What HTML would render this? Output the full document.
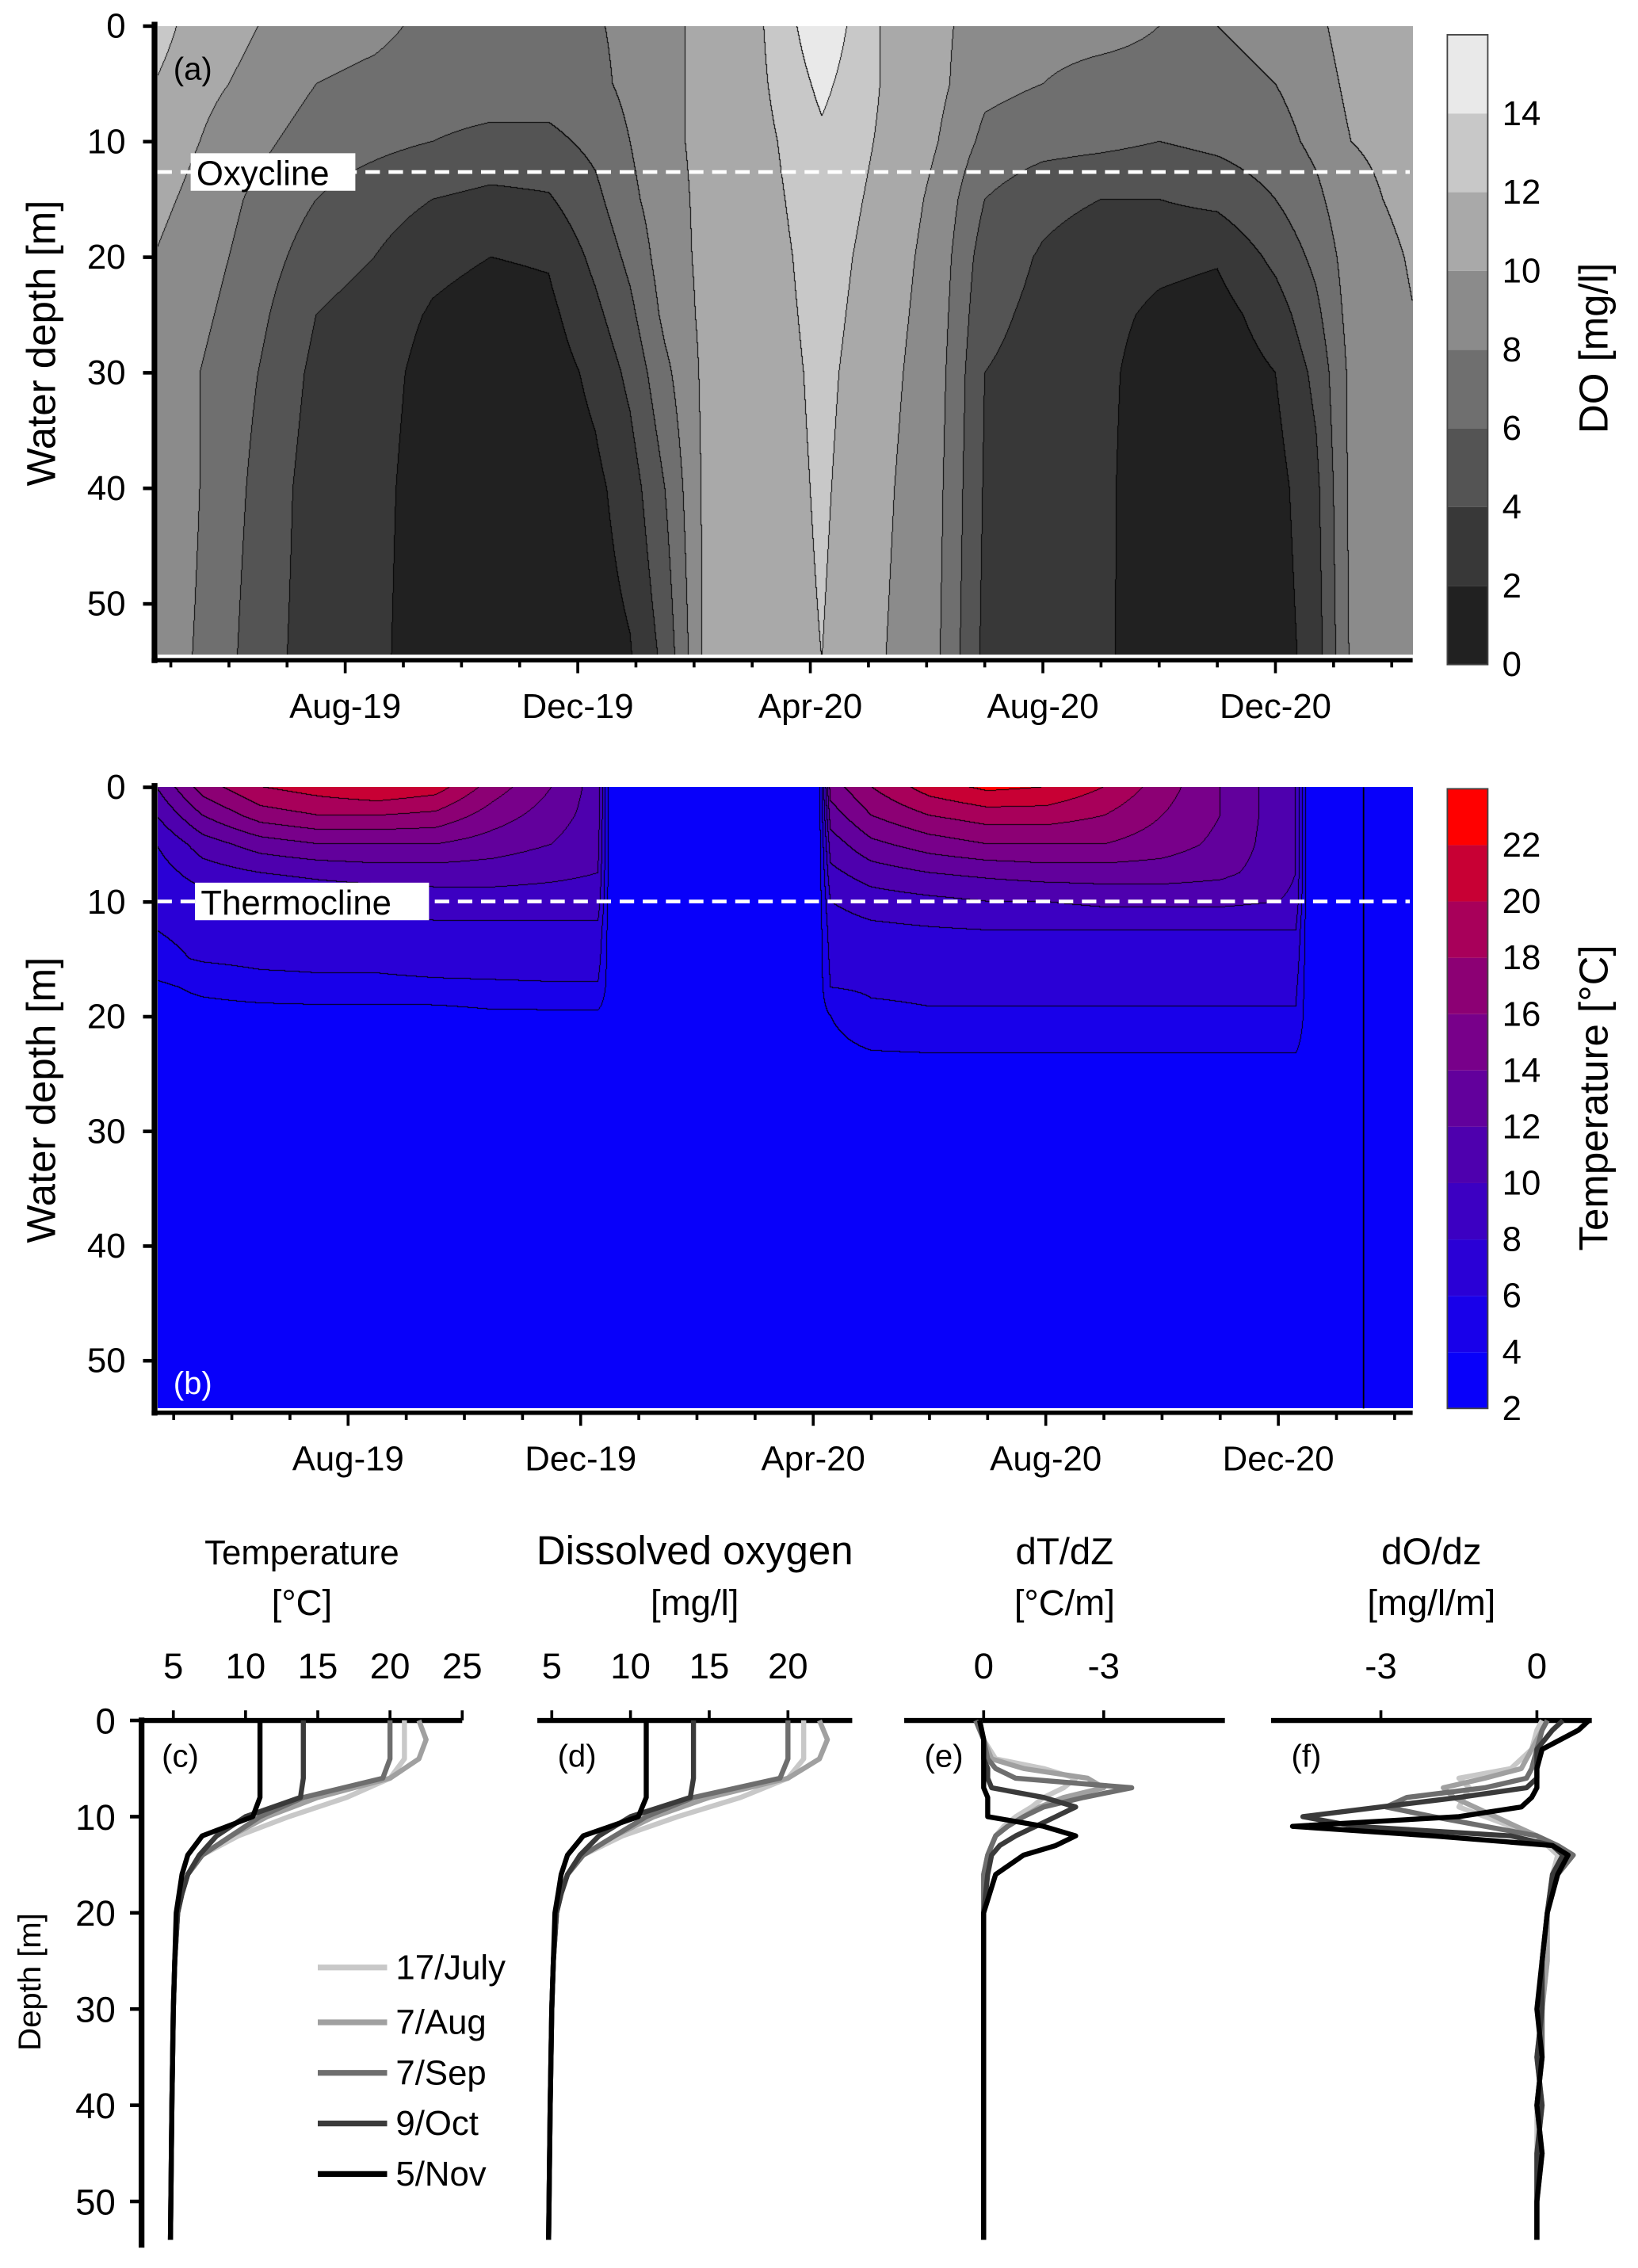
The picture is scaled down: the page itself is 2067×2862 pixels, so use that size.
<!DOCTYPE html>
<html><head><meta charset="utf-8">
<style>
html,body{margin:0;padding:0;background:#fff;}
#wrap{position:relative;width:2067px;height:2862px;overflow:hidden;}
svg{position:absolute;left:0;top:0;}
canvas{position:absolute;}
text{font-family:"Liberation Sans",sans-serif;fill:#000;}
</style></head>
<body>
<div id="wrap">
<canvas id="cva"></canvas>
<canvas id="cvb"></canvas>
<svg id="svg" width="2067" height="2862" viewBox="0 0 1134 1570"></svg>
</div>
<script>
// ---------- data ----------
const doTimes = [-3.3,-2.5,-1.5,-0.5,0.5,1.5,2.5,3.5,4.3,4.9,5.5,6.2,7.2,8.2,9.2,10.2,11,12,13,14,15,16,16.7,17.3,18.4];
const doDepths = [0,5,10,15,20,25,30,40,55];
const doGrid = [
[13,12,11,10.5,10,10,9.5,9.5,9],
[11,10.5,10,9.5,9,8.5,8,8,7.8],
[10,9.5,8.5,7.5,7,6.5,6,5.5,5],
[9,8,7,6,5,4,3.5,3,3],
[8.5,7.5,6.5,5,4,3,2.8,2.6,2.5],
[7.5,7,6,4,2.5,1.8,1.3,1,0.8],
[7.5,7,5.5,3.5,2,1.2,0.8,0.6,0.5],
[7.5,7,5.5,3.8,2.2,1.5,1,0.7,0.6],
[7.8,7.5,6.5,5.5,4.5,3.5,2.5,1.5,1],
[8.5,8.5,8,7.5,6.5,5.5,4.5,3,1.8],
[9.5,9.5,9.5,9.2,9,8.5,7.5,6,4.5],
[10.5,10.5,10.5,10.5,10.5,10.5,10.5,10.5,10.5],
[12,11.8,11.5,11.3,11.1,11,10.9,10.8,10.8],
[15.5,14.5,13.6,13.2,12.9,12.7,12.5,12.3,12],
[12,12,11.8,11.5,11.2,11,10.8,10.5,10.2],
[10.5,10.5,10,9.5,9.2,9,8.8,8.5,8.2],
[9,8.5,7.5,6,5,4.5,4,3.8,3.5],
[8.5,8,6.8,4.5,3.8,3.5,3.3,3.2,3.2],
[8.5,7.5,6.5,4,3,2.6,2.5,2.5,2.5],
[8,7.5,6,4,2.5,1.6,1,0.6,0.5],
[8,7.5,6.5,4.5,2.2,1.2,0.8,0.6,0.5],
[8.5,8,7.2,6,4.5,3,2,1.2,0.8],
[9.5,9,8.5,7.5,6.5,5.5,4.5,3.5,3],
[11,10.5,10,9.5,9,8.8,8.5,8.5,8.3],
[10.5,10.5,10.5,10.5,10.2,10,10,10,10]];
const doBandColors = ["#212121","#383838","#545454","#6f6f6f","#8b8b8b","#a9a9a9","#c8c8c8","#e9e9e9"];
const doBarLabels = [0,2,4,6,8,10,12,14];

const tTimes = [-3.3,-2.5,-1.5,-0.5,0.5,1.5,2.5,3.5,4.3,4.5,8.1,8.3,9,10,11,12,13,14,15,16,16.3,16.5,18.4];
const tDepths = [0,2.5,5,7.5,10,12.5,15,17.5,20,25,55];
const tGrid = [
[12,10,8,7,6.5,6,5.5,3.5,3,3,3],
[17,14,11,9,7,6.5,6.2,4.5,3,3,3],
[20,17,13,10,8,7,6.5,5.2,3,3,3],
[21,18,14,10.5,8.5,7.2,6.5,5.5,3,3,3],
[22,18,14,11,8.5,7.2,6.5,5.5,3,3,3],
[21,17.5,14,11,9,7.5,6.8,5.6,3,3,3],
[17,15,13,11,9,7.5,6.8,5.7,3.5,3,3],
[14,13,12,10.5,9,7.5,6.8,5.8,3.5,3,3],
[11,11,10.5,10,9,7.5,6.8,5.8,3.5,3,3],
[3,3,3,3,3,3,3,3,3,3,3],
[3,3,3,3,3,3,3,3,3,3,3],
[15,13,11,9.5,8,7,6.5,6,4,3,3],
[18,16,13.5,11,9,7.5,6.8,6.3,5.5,3,3],
[21,18,15,12,9.5,7.8,7,6.4,5.8,3,3],
[22.5,19,16,12.5,10,8,7.2,6.4,5.8,3,3],
[22,19,16,13,10,8,7.2,6.4,5.8,3,3],
[20,18,16,13,10.5,8,7.2,6.4,5.8,3,3],
[17,16,15,13,10.5,8,7.2,6.4,5.8,3,3],
[14,14,13.5,12.5,10.5,8,7.2,6.4,5.8,3,3],
[11,11,11,11,10,8,7.2,6.4,5.8,3,3],
[10,10,10,10,9.5,8,7.2,6.4,5.8,3,3],
[3,3,3,3,3,3,3,3,3,3,3],
[3,3,3,3,3,3,3,3,3,3,3]];
const tBandColors = ["#0800fa","#1800ea","#2a00d6","#3c00c2","#4e00ae","#62009c","#78008a","#8c0074","#a8005a","#c80034","#ff0000"];
const tBarLabels = [2,4,6,8,10,12,14,16,18,20,22];

const monthLabels = ["Aug-19","Dec-19","Apr-20","Aug-20","Dec-20"];
const monthTicks = [0,4,8,12,16];
const depthTicks = [0,10,20,30,40,50];

const seriesNames = ["17/July","7/Aug","7/Sep","9/Oct","5/Nov"];
const seriesColors = ["#c8c8c8","#a0a0a0","#6e6e6e","#3a3a3a","#000000"];
const profDepths = [0,2,4,6,8,10,12,14,16,18,20,25,30,40,54];
const tempJuly = [21,21,21,20,17,13,9.5,7,6,5.6,5.3,5.1,5,4.9,4.8];
const tempAug = [22,22.5,22,20,15,11.5,9,7,6,5.6,5.3,5.1,5,4.9,4.8];
const tempSep = [20,20,20,19.5,14,11,9,7,6,5.6,5.3,5.1,5,4.9,4.8];
const tempOct = [14,14,14,14,13.8,10,8,6.8,6,5.6,5.3,5.1,5,4.9,4.8];
const tempNov = [11,11,11,11,11,10.5,7,6,5.6,5.4,5.2,5.1,5,4.9,4.8];
const doJuly = [21,21,21,20,17,13,9.5,7,6,5.6,5.3,5.1,5,4.9,4.8];
const doAug = [22,22.5,22,20,15,11.5,9,7,6,5.6,5.3,5.1,5,4.9,4.8];
const doSep = [20,20,20,19.5,14,11,9,7,6,5.6,5.3,5.1,5,4.9,4.8];
const doOct = [14,14,14,14,13.8,10,8,6.8,6,5.6,5.3,5.1,5,4.9,4.8];
const doNov = [11,11,11,11,11,10.5,7,6,5.6,5.4,5.2,5.1,5,4.9,4.8];
const dtDepths = [0,2,4,5,6,7,8,9,10,11,12,13,14,16,20,30,54];
const dtJuly = [0.1,0,-0.3,-1.5,-2.3,-2,-1.5,-1.2,-0.8,-0.5,-0.3,-0.2,-0.1,0,0,0,0];
const dtAug = [0.1,0,-0.2,-1,-2.6,-3,-2,-1.4,-1,-0.6,-0.3,-0.2,-0.1,0,0,0,0];
const dtSep = [0.2,0,-0.1,-0.3,-0.8,-3.7,-2.5,-1.5,-1,-0.6,-0.3,-0.2,-0.1,0,0,0,0];
const dtOct = [0.1,0,0,-0.1,-0.1,-0.2,-1.5,-2.3,-1.8,-1.3,-0.8,-0.4,-0.2,-0.1,0,0,0];
const dtNov = [0.1,0,0,0,0,0,-0.1,-0.1,-0.1,-1.5,-2.3,-1.8,-1,-0.3,0,0,0];
const doDzDepths = [0,1,3,5,6,7,8,9,10,11,12,13,14,16,20,25,30,35,40,45,50,54];
const dozNov = [1,0.8,0.1,0,0,0,-0.1,-0.3,-1.5,-4.7,-2,0.3,0.6,0.4,0.2,0.1,0,0.1,0,0.1,0,0];
const dozOct = [0.5,0.3,0,0,0,-0.2,-1.5,-3,-4.5,-3.5,-0.5,0.3,0.5,0.3,0.2,0.1,0.1,0,0.1,0,0,0];
const dozSep = [0.2,0.1,0,-0.1,-0.2,-1,-2.5,-2.9,-2,-1,0,0.4,0.7,0.4,0.2,0.1,0.1,0.1,0,0.1,0,0];
const dozAug = [0.2,0.1,-0.1,-0.3,-1,-1.8,-1.6,-1.2,-0.8,-0.4,0,0.3,0.5,0.3,0.2,0.2,0.1,0,0.1,0,0,0];
const dozJuly = [0.1,0,-0.1,-0.5,-1.5,-1.3,-1.4,-1.5,-1,-0.5,0,0.2,0.4,0.3,0.2,0.2,0.1,0.1,0,0,0,0];

// ---------- helpers ----------
const S = 2067/1134;
const svg = document.getElementById('svg');
const NS = 'http://www.w3.org/2000/svg';
function mk(tag, attrs, parent){const e=document.createElementNS(NS,tag);for(const k in attrs)e.setAttribute(k,attrs[k]);(parent||svg).appendChild(e);return e;}
function txt(x,y,s,size,anchor,parent){const e=mk('text',{x:x,y:y,'font-size':size,'text-anchor':anchor||'middle'},parent);e.textContent=s;return e;}
function idx(arr,v){let i=0;while(i<arr.length-2&&v>arr[i+1])i++;return i;}
function bil(T,D,G,t,d){
  t=Math.max(T[0],Math.min(T[T.length-1],t));d=Math.max(D[0],Math.min(D[D.length-1],d));
  const i=idx(T,t),j=idx(D,d);
  const ft=(t-T[i])/(T[i+1]-T[i]),fd=(d-D[j])/(D[j+1]-D[j]);
  const a=G[i][j]*(1-fd)+G[i][j+1]*fd, b=G[i+1][j]*(1-fd)+G[i+1][j+1]*fd;
  return a*(1-ft)+b*ft;
}
function hex(c){return [parseInt(c.substr(1,2),16),parseInt(c.substr(3,2),16),parseInt(c.substr(5,2),16)];}
function drawContour(id,x0,y0,x1,y1,xOfT,yOfD,T,D,G,vmin,step,colors){
  const cv=document.getElementById(id);
  const L=Math.round(x0*S),Tp=Math.round(y0*S),W=Math.round((x1-x0)*S),H=Math.round((y1-y0)*S);
  cv.style.left=L+'px';cv.style.top=Tp+'px';cv.width=W;cv.height=H;
  const ctx=cv.getContext('2d');const img=ctx.createImageData(W,H);
  const cols=colors.map(hex);const band=new Int16Array(W*H);
  for(let py=0;py<H;py++){const d=yOfD((py+0.5)/S+y0);
    for(let px=0;px<W;px++){const t=xOfT((px+0.5)/S+x0);
      let b=Math.floor((bil(T,D,G,t,d)-vmin)/step);b=Math.max(0,Math.min(cols.length-1,b));band[py*W+px]=b;}}
  for(let py=0;py<H;py++)for(let px=0;px<W;px++){const k=py*W+px,b=band[k];
    let edge=(px<W-1&&band[k+1]!==b)||(py<H-1&&band[k+W]!==b);
    const c=edge?[0,0,0]:cols[b];const o=k*4;img.data[o]=c[0];img.data[o+1]=c[1];img.data[o+2]=c[2];img.data[o+3]=255;}
  ctx.putImageData(img,0,0);
}

// ---------- panel a ----------
const ax = t=>239+t*40.25, aT = x=>(x-239)/40.25;
const ay = d=>18+d*8, aD = y=>(y-18)/8;
drawContour('cva',109,18,978,453,aT,aD,doTimes,doDepths,doGrid,0,2,doBandColors);
// ---------- panel b ----------
const bx = t=>241+t*40.25, bT = x=>(x-241)/40.25;
const by = d=>545+d*7.94, bD = y=>(y-545)/7.94;
drawContour('cvb',109,545,978,975,bT,bD,tTimes,tDepths,tGrid,2,2,tBandColors);

function contourAxes(prefix,xf,yf,bottom,letter,letterColor,letterY){
  const g=mk('g',{});
  
  
  const yl=mk('line',{x1:107,y1:yf(0)-3,x2:107,y2:bottom+2,stroke:'#000','stroke-width':4},g);
  
  
  const xl=mk('line',{x1:105,y1:bottom,x2:978,y2:bottom,stroke:'#000','stroke-width':3},g);
  
  
  depthTicks.forEach(d=>{
    mk('line',{x1:99,y1:yf(d),x2:107,y2:yf(d),stroke:'#000','stroke-width':2.5},g);
    const l=txt(87,yf(d)+8,String(d),24,'end',g);
    
    
  });
  for(let m=-3;m<=18;m++){mk('line',{x1:xf(m),y1:bottom,x2:xf(m),y2:bottom+(m%4===0?9:5),stroke:'#000','stroke-width':2},g);}
  monthTicks.forEach((m,i)=>{
    const l=txt(xf(m),bottom+40,monthLabels[i],24,'middle',g);
    
    
  });
  const yt=txt(0,0,'Water depth [m]',28,'middle',g);
  yt.setAttribute('transform','translate(38,'+((yf(0)+bottom)/2)+') rotate(-90)');
  
  
  const pl=txt(120,letterY,letter,22,'start',g);
  pl.setAttribute('fill',letterColor);pl.style.fill=letterColor;
  
  
}
contourAxes('do',ax,ay,457,'(a)','#000',55);
contourAxes('temp',bx,by,978,'(b)','#fff',965);
// black vertical line in b
mk('line',{x1:944,y1:545,x2:944,y2:975,stroke:'#000','stroke-width':1});

function refLine(y,label,x0,w,name){
  const g=mk('g',{});
  
  
  mk('line',{x1:109,y1:y,x2:976,y2:y,stroke:'#fff','stroke-width':2.5,'stroke-dasharray':'10,6'},g);
  mk('rect',{x:x0,y:y-13,width:w,height:26,fill:'#fff'},g);
  txt(x0+4,y+9,label,24,'start',g);
}
refLine(119,'Oxycline',132,114,'oxycline-line');
refLine(624,'Thermocline',135,162,'thermocline-line');

function colorbar(prefix,colors,labels,yOf,title,y0,y1){
  const g=mk('g',{});
  
  
  colors.forEach((c,i)=>{
    const r=mk('rect',{x:1002,y:yOf(labels[i]+2),width:28,height:yOf(labels[i])-yOf(labels[i]+2),fill:c},g);
    
    
  });
  mk('rect',{x:1002,y:yOf(labels[labels.length-1]+2),width:28,height:yOf(labels[0])-yOf(labels[labels.length-1]+2),fill:'none',stroke:'#444','stroke-width':1},g);
  labels.forEach(v=>{
    const l=txt(1040,yOf(v)+8,String(v),24,'start',g);
    
    
  });
  const t=txt(0,0,title,28,'middle',g);
  t.setAttribute('transform','translate(1113,'+((y0+y1)/2)+') rotate(-90)');
  
  
}
colorbar('do',doBandColors,doBarLabels,v=>460-v*27.25,'DO [mg/l]',22,460);
colorbar('temp',tBandColors,tBarLabels,v=>975-(v-2)*19.5,'Temperature [°C]',545,975);

// ---------- profile panels ----------
const py = d=>1191+d*6.66;
function profilePanel(prefix,x0,x1,xf,ticks,title1,title2,t1size,letter,depths,series){
  const g=mk('g',{});
  
  
  const xl=mk('line',{x1:x0,y1:1191,x2:x1,y2:1191,stroke:'#000','stroke-width':3.5},g);
  
  
  ticks.forEach(v=>{
    mk('line',{x1:xf(v),y1:1184,x2:xf(v),y2:1191,stroke:'#000','stroke-width':2},g);
    const l=txt(xf(v),1162,String(v),25,'middle',g);
    
    
  });
  const cx=(x0+x1)/2;
  const a=txt(cx,1083,title1,t1size,'middle',g);
  
  
  const b=txt(cx,1118,title2,25,'middle',g);
  
  
  const pl=txt(x0+14,1223,letter,22,'start',g);
  
  
  series.forEach((vals,i)=>{
    const pts=vals.map((v,k)=>xf(v).toFixed(1)+','+py(depths[k]).toFixed(1)).join(' ');
    const p=mk('polyline',{points:pts,fill:'none',stroke:seriesColors[i],'stroke-width':3.5,'stroke-linejoin':'round'},g);
    
    
  });
}
profilePanel('temp',98,320,v=>120+(v-5)*10,[5,10,15,20,25],'Temperature','[°C]',24,'(c)',profDepths,[tempJuly,tempAug,tempSep,tempOct,tempNov]);
profilePanel('do',372,590,v=>382+(v-5)*10.9,[5,10,15,20],'Dissolved oxygen','[mg/l]',28,'(d)',profDepths,[doJuly,doAug,doSep,doOct,doNov]);
profilePanel('dtdz',626,848,v=>681-v*27.7,[0,-3],'dT/dZ','[°C/m]',26,'(e)',dtDepths,[dtJuly,dtAug,dtSep,dtOct,dtNov]);
profilePanel('dodz',880,1102,v=>1064+v*36,[-3,0],'dO/dz','[mg/l/m]',26,'(f)',doDzDepths,[dozJuly,dozAug,dozSep,dozOct,dozNov]);

// depth axis for profiles
const dl=mk('line',{x1:98,y1:1189,x2:98,y2:1556,stroke:'#000','stroke-width':4});


depthTicks.forEach(d=>{
  mk('line',{x1:90,y1:py(d),x2:98,y2:py(d),stroke:'#000','stroke-width':2.5});
  const l=txt(80,py(d)+9,String(d),25,'end');
  
  
});
const dt=txt(0,0,'Depth [m]',22,'middle');
dt.setAttribute('transform','translate(28,1372) rotate(-90)');



// legend
const lg=mk('g',{});


const legY=[1362,1400,1435,1470,1505];
seriesNames.forEach((n,i)=>{
  const e=mk('g',{},lg);
  
  
  mk('line',{x1:220,y1:legY[i],x2:268,y2:legY[i],stroke:seriesColors[i],'stroke-width':4},e);
  txt(274,legY[i]+8,n,24,'start',e);
});
</script>
</body></html>
